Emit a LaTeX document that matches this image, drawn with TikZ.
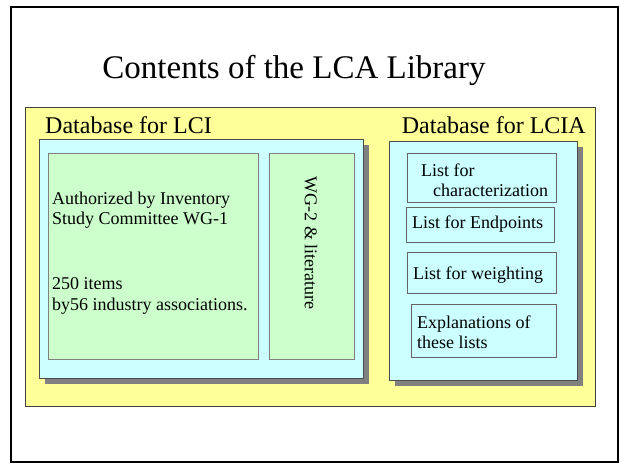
\documentclass[tikz,border=0pt]{standalone}
\usepackage{fontspec}
\setmainfont{Liberation Serif}
\usetikzlibrary{shadows}
\definecolor{libyellow}{HTML}{FFFF99}
\definecolor{libcyan}{HTML}{CCFFFF}
\definecolor{libgreen}{HTML}{CCFFCC}
\tikzset{
  box/.style={anchor=north west, inner sep=0pt, outer sep=0pt},
  yellowbox/.style={box, fill=libyellow, draw=black!75, line width=1pt},
  dbbox/.style={box, fill=libcyan, draw=black!70, line width=1pt,
    drop shadow={shadow xshift=6pt, shadow yshift=-6pt, fill=black!50, opacity=1}},
  itembox/.style={box, fill=libgreen, draw=black!50, line width=1pt},
  listbox/.style={box, fill=libcyan, draw=black!60, line width=1pt},
  txt/.style={font=\fontsize{18}{20.5}\selectfont, align=left, inner sep=0pt},
  head/.style={font=\fontsize{24}{28}\selectfont, inner sep=0pt},
}
\begin{document}
\begin{tikzpicture}[x=1pt,y=-1pt]
\useasboundingbox (0,0) rectangle (620,463);
\draw[line width=2pt] (11,7) rectangle (618,462);
\node[font=\fontsize{33}{38}\selectfont, anchor=base, inner sep=0pt] (title) at (294,78) {Contents of the LCA Library};
\node[yellowbox, minimum width=570pt, minimum height=299pt] (panel) at (25,107) {};
\node[head, anchor=base west] (lcihead) at (45,133) {Database for LCI};
\node[head, anchor=base east] (lciahead) at (586,133) {Database for LCIA};
% LCI
\node[dbbox, minimum width=324pt, minimum height=239pt] (lci) at (39,139) {};
\node[itembox, minimum width=210pt, minimum height=206pt] (auth) at (48,153) {};
\node[itembox, minimum width=85pt, minimum height=206pt] (wg) at (269,153) {};
\node[txt, anchor=west] (authtext) at (52,210) {Authorized by Inventory\\Study Committee WG-1};
\node[txt, anchor=west] (itemtext) at (52,296) {250 items\\by56 industry associations.};
\node[txt, rotate=-90] (wgtext) at (311,243) {WG-2 \& literature};
% LCIA
\node[dbbox, minimum width=188pt, minimum height=239pt] (lcia) at (389,141) {};
\node[listbox, minimum width=149pt, minimum height=49pt] (charbox) at (407,153) {};
\node[listbox, minimum width=148pt, minimum height=35pt] (endbox) at (406,207) {};
\node[listbox, minimum width=149pt, minimum height=41pt] (weightbox) at (407,252) {};
\node[listbox, minimum width=145pt, minimum height=53pt] (explbox) at (411,304) {};
\node[txt, anchor=west] (chartext) at (421,180) {List for\\\hspace*{12pt}characterization};
\node[txt, anchor=west] (endtext) at (412,224) {List for Endpoints};
\node[txt, anchor=west] (weighttext) at (413,275) {List for weighting};
\node[txt, anchor=west] (expltext) at (417,332) {Explanations of\\these lists};
\end{tikzpicture}
\end{document}
